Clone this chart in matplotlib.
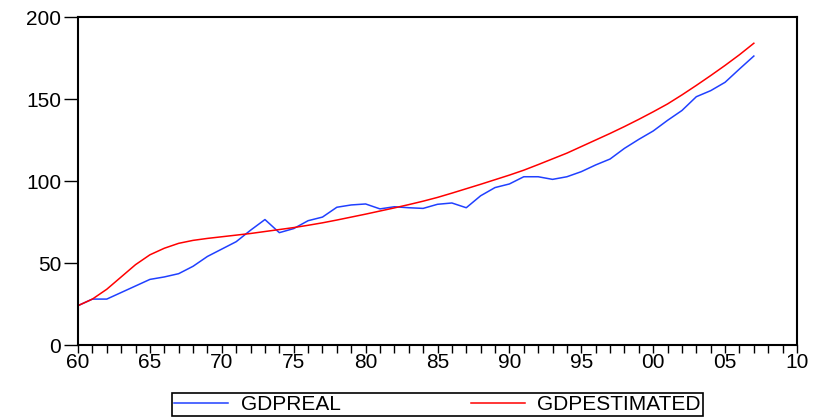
import matplotlib
matplotlib.use('Agg')
import matplotlib.pyplot as plt
from matplotlib.ticker import MultipleLocator, FuncFormatter

# data (1960-2007)
years = list(range(1960, 2008))
gdp_real = [24, 28, 28, 32, 36, 40, 41.5, 43.5, 48, 54,
            58.5, 63, 70, 76.5, 68.5, 71, 75.8, 78, 84, 85.4,
            86, 83, 84.3, 83.7, 83.3, 85.8, 86.6, 83.7, 91, 96,
            98.2, 102.6, 102.6, 101, 102.6, 105.7, 109.8, 113.4, 119.9, 125.4,
            130.5, 137, 143, 151.4, 155.1, 160.2, 168.3, 176.2]
gdp_est = [24.0, 28.0, 34.0, 41.5, 49.0, 55.0, 59.0, 62.0, 63.8, 65.0,
           66.0, 67.0, 68.0, 69.2, 70.4, 71.6, 73.0, 74.5, 76.2, 78.0,
           79.8, 81.7, 83.6, 85.6, 87.7, 90.0, 92.6, 95.3, 98.0, 100.8,
           103.6, 106.6, 110.0, 113.5, 117.0, 121.0, 125.0, 129.0, 133.2, 137.6,
           142.2, 147.0, 152.5, 158.3, 164.3, 170.5, 177.0, 184.0]

plt.rcParams['font.family'] = ['Liberation Sans', 'DejaVu Sans']

fig = plt.figure(figsize=(8.17, 4.19), dpi=100)
ax = fig.add_axes([0.0955, 0.1766, 0.88, 0.7828])

ax.plot(years, gdp_real, color='#2040ff', lw=1.1, label='GDPREAL')
ax.plot(years, gdp_est, color='#ff0000', lw=1.1, label='GDPESTIMATED')

ax.set_xlim(1960, 2010)
ax.set_ylim(0, 200)
ax.xaxis.set_major_locator(MultipleLocator(5))
ax.xaxis.set_minor_locator(MultipleLocator(1))
ax.xaxis.set_major_formatter(FuncFormatter(lambda v, p: '%02d' % (int(round(v)) % 100)))
ax.yaxis.set_major_locator(MultipleLocator(50))

ax.tick_params(axis='x', which='both', direction='out', length=6, width=1,
               labelsize=15, pad=0)
ax.tick_params(axis='y', direction='out', length=10, width=1, labelsize=15, pad=2)
for s in ax.spines.values():
    s.set_linewidth(1.5)

leg = ax.legend(loc='upper left', bbox_to_anchor=(0.1307, -0.226, 0.7385, 0.08),
                mode='expand', ncol=2, fontsize=15, frameon=True, fancybox=False,
                edgecolor='black', framealpha=1, handlelength=2.6,
                borderpad=0.1, handletextpad=0.6, borderaxespad=0)
leg.get_frame().set_linewidth(1.2)

fig.savefig('out.png', dpi=100)
